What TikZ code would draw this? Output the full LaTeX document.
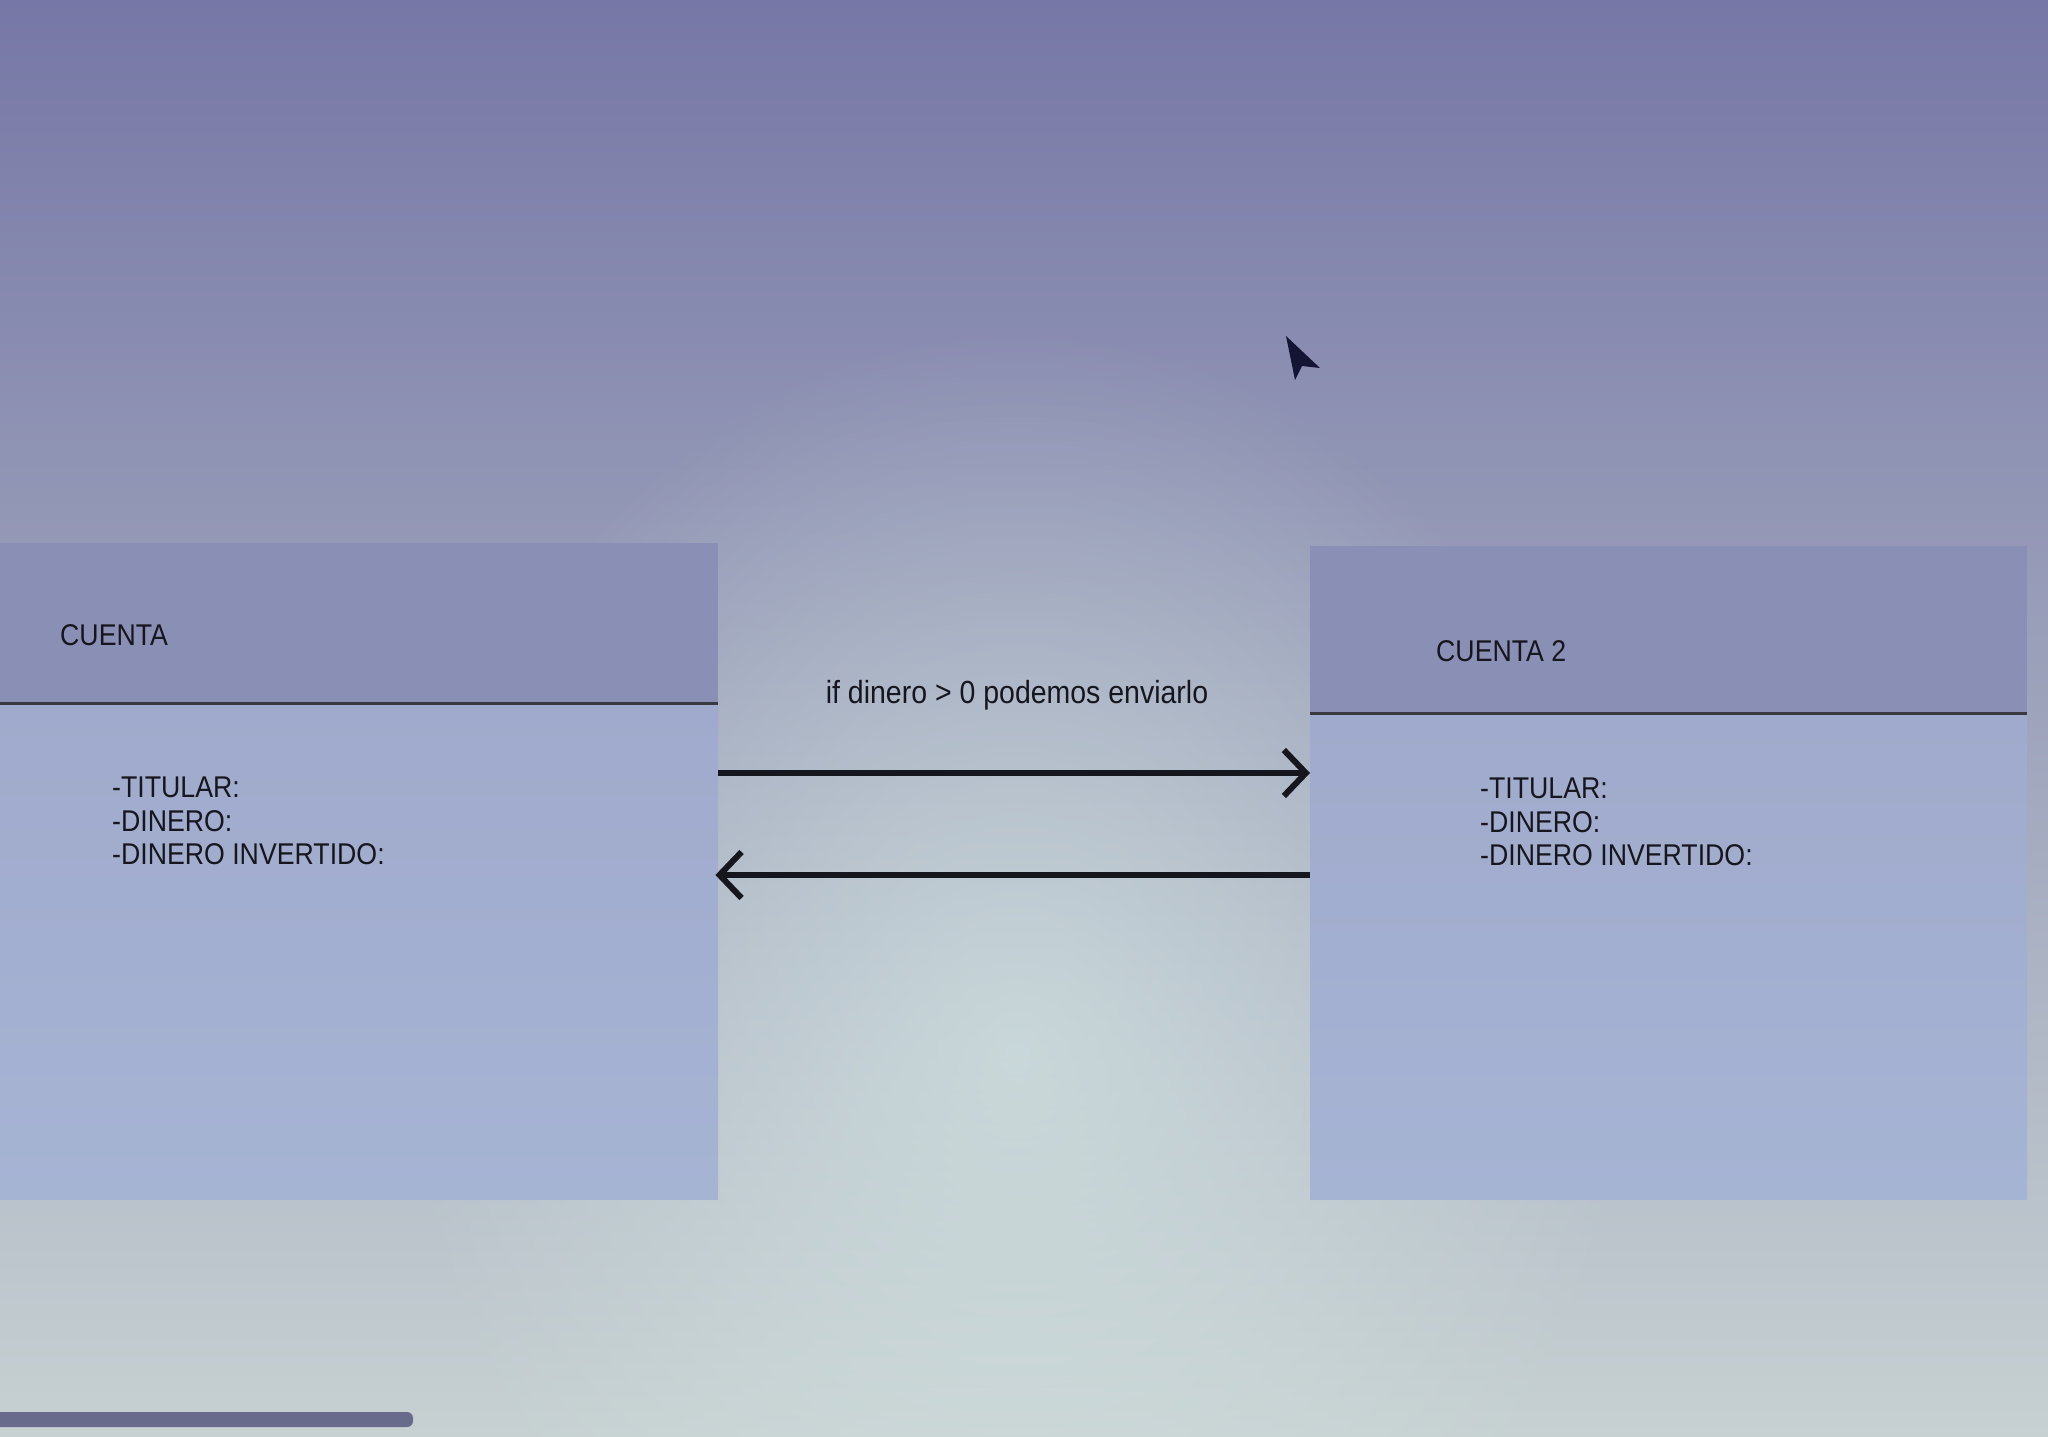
\documentclass[tikz,border=0pt]{standalone}
\usepackage{fontspec}
\setmainfont{Liberation Sans}[FakeStretch=0.89]
\usetikzlibrary{arrows.meta,calc,fadings}
\definecolor{bgtop}{RGB}{118,119,166}
\definecolor{bgmid}{RGB}{172,179,215}
\definecolor{bgbot}{RGB}{199,209,210}
\definecolor{glowc}{RGB}{214,232,228}
\definecolor{hdr}{RGB}{138,144,181}
\definecolor{bodytop}{RGB}{160,170,204}
\definecolor{bodybot}{RGB}{166,180,212}
\definecolor{ink}{RGB}{22,22,30}
\definecolor{barc}{RGB}{104,107,140}
\tikzfading[name=glow, inner color=transparent!35, outer color=transparent!100]
\tikzset{
  box/.style={rectangle, inner sep=0pt, anchor=north west, draw=none},
  sepline/.style={draw=ink!85, line width=3pt},
  title/.style={anchor=west, inner sep=0pt, text=ink, font=\fontsize{30}{33}\selectfont},
  attr/.style={anchor=north west, inner sep=0pt, text=ink, align=left, font=\fontsize{30}{33.3}\selectfont},
  lbl/.style={inner sep=0pt, text=ink, font=\fontsize{32}{35}\selectfont},
  conn/.style={draw=ink, line width=6pt, -{Straight Barb[length=22pt,width=46pt]}},
}
\begin{document}
\begin{tikzpicture}[x=1pt,y=-1pt]
\useasboundingbox (0,0) rectangle (2048,1436);
\shade[top color=bgtop, middle color=bgmid, bottom color=bgbot] (0,0) rectangle (2048,1436);
% soft brighter glow between the boxes
\fill[glowc, path fading=glow] (1017,1050) ellipse [x radius=620, y radius=720];

% left box
\node[box, minimum width=718pt, minimum height=656pt] (L) at (0,543) {};
\shade[top color=bodytop, bottom color=bodybot] (0,703) rectangle (718,1199);
\fill[hdr] (L.north west) rectangle (718,703);
\coordinate (lh1) at (0,703);
\coordinate (lh2) at (718,703);
\draw[sepline] (lh1) -- (lh2);
\node[title] (lt) at (60,635) {CUENTA};
\node[attr] (la) at (112,777) {-TITULAR:\\-DINERO:\\-DINERO INVERTIDO:};

% right box
\node[box, minimum width=717pt, minimum height=653pt] (R) at (1310,546) {};
\shade[top color=bodytop, bottom color=bodybot] (1310,713) rectangle (2027,1199);
\fill[hdr] (R.north west) rectangle (2027,713);
\coordinate (rh1) at (1310,713);
\coordinate (rh2) at (2027,713);
\draw[sepline] (rh1) -- (rh2);
\node[title] (rt) at (1436,651) {CUENTA 2};
\node[attr] (ra) at (1480,778) {-TITULAR:\\-DINERO:\\-DINERO INVERTIDO:};

% connectors
\coordinate (y1) at (0,773);
\coordinate (y2) at (0,875);
\draw[conn] (L.east |- y1) -- (R.west |- y1);
\draw[conn] (R.west |- y2) -- ([xshift=-3pt]L.east |- y2);
\node[lbl] (msg) at (1017,695) {if dinero > 0 podemos enviarlo};

% mouse cursor
\fill[ink!90!blue] (1286,336) -- (1295,380) -- (1302,366) -- (1320,368) -- cycle;

% scrollbar
\fill[barc, rounded corners=6pt] (-10,1412) rectangle (413,1427);
\end{tikzpicture}
\end{document}
